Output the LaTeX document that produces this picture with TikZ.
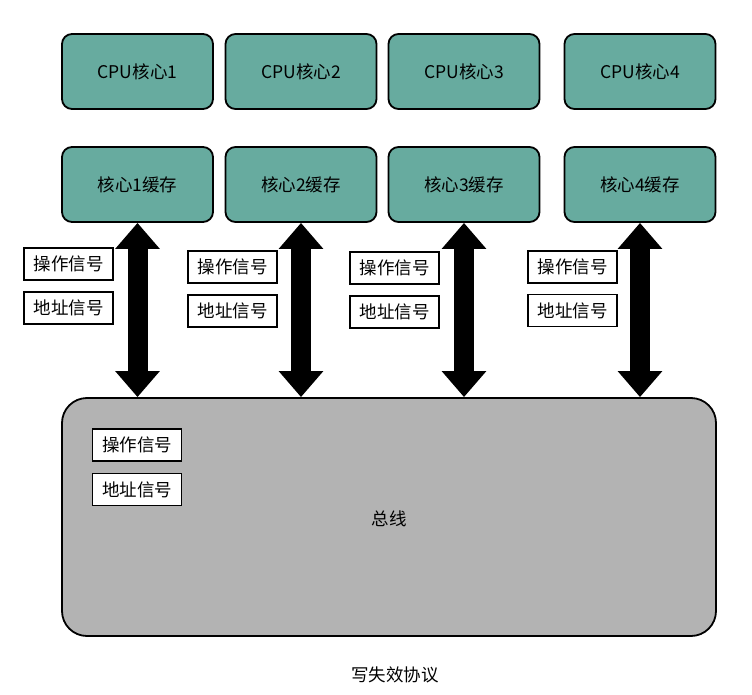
\documentclass[tikz,border=0pt]{standalone}
\usepackage{fontspec}
\newfontfamily\cjk{Noto Sans CJK SC}
\usetikzlibrary{arrows.meta, positioning}
\definecolor{coregreen}{HTML}{67AB9F}
\definecolor{busgray}{HTML}{B3B3B3}

\begin{document}
\begin{tikzpicture}[x=1pt, y=-1pt,
    every node/.style={font=\cjk\fontsize{17.5}{20}\selectfont},
    corebox/.style={draw, line width=1.8pt, fill=coregreen, rounded corners=10pt,
      minimum width=151pt, minimum height=75pt},
    sigbox/.style={draw, line width=1.8pt, fill=white, minimum width=89pt,
      minimum height=32pt, inner sep=0pt},
    busarrow/.style={line width=20pt,
      {Triangle[width=43pt,length=26pt]}-{Triangle[width=43pt,length=26pt]}}]
  \useasboundingbox (0,0) rectangle (752,695);
  % cores and caches
  \node[corebox] (cpu1) at (137.5,71.5) {CPU核心1};
  \node[corebox] (cpu2) at (301,71.5) {CPU核心2};
  \node[corebox] (cpu3) at (464,71.5) {CPU核心3};
  \node[corebox] (cpu4) at (640,71.5) {CPU核心4};
  \node[corebox] (cache1) at (137.5,184.5) {核心1缓存};
  \node[corebox] (cache2) at (301,184.5) {核心2缓存};
  \node[corebox] (cache3) at (464,184.5) {核心3缓存};
  \node[corebox] (cache4) at (640,184.5) {核心4缓存};
  % bus
  \node[draw, line width=1.8pt, fill=busgray, rounded corners=25pt,
    minimum width=654pt, minimum height=238pt] (bus) at (389,517) {};
  \node (busname) at (389,519) {总线};
  \node[sigbox] (busop) at (137,445) {操作信号};
  \node[sigbox] (busaddr) at (137,489.5) {地址信号};
  % signal labels
  \node[sigbox] (op1) at (68.5,264) {操作信号};
  \node[sigbox] (addr1) at (68.5,308) {地址信号};
  \node[sigbox] (op2) at (232.5,267) {操作信号};
  \node[sigbox] (addr2) at (232.5,311) {地址信号};
  \node[sigbox] (op3) at (394.5,268) {操作信号};
  \node[sigbox] (addr3) at (394.5,312) {地址信号};
  \node[sigbox] (op4) at (572.5,267) {操作信号};
  \node[sigbox] (addr4) at (572.5,310.5) {地址信号};
  % arrows
  \foreach \i in {1,...,4}
    \draw[busarrow] (cache\i.south) -- (cache\i.south |- bus.north);
  \node (caption) at (395,675) {写失效协议};
\end{tikzpicture}
\end{document}
